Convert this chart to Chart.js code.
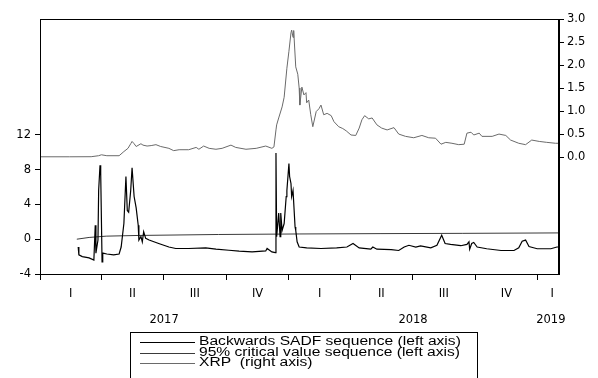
<!DOCTYPE html>
<html>
<head>
<meta charset="utf-8">
<script src="https://cdn.jsdelivr.net/npm/chart.js@4.4.1/dist/chart.umd.min.js"></script>
<style>
  html, body { margin: 0; padding: 0; background: #fff; }
  #wrap { width: 598px; height: 378px; }
</style>
</head>
<body>
<div id="wrap"><canvas id="sadf"></canvas></div>
<script>
// days counted from 1 Jan 2017
const xrpDays = [0,43,75,86,90,98,116,123,129,133,135,138,141,148,151,157,163,170,177,189,196,204,218,229,233,240,248,258,267,280,287,302,317,331,340,343,346,347,350,355,358,362,365,368,369,371,372,375,378,380,381,384,387,390,391,394,397,400,405,409,412,416,421,427,431,438,444,449,456,463,468,472,476,482,487,494,501,509,519,526,536,548,560,570,580,588,595,604,614,622,626,632,636,644,648,663,673,683,690,702,712,721,732,743,756,761];
const xrpVals = [0.0065,0.0065,0.008,0.03,0.05,0.03,0.03,0.12,0.19,0.29,0.34,0.29,0.23,0.29,0.26,0.24,0.25,0.27,0.23,0.19,0.14,0.16,0.16,0.21,0.17,0.24,0.19,0.17,0.19,0.26,0.21,0.17,0.19,0.24,0.19,0.22,0.59,0.7,0.85,1.09,1.3,1.93,2.3,2.7,2.76,2.6,2.75,1.96,1.8,1.5,1.13,1.52,1.35,1.4,1.18,1.24,0.92,0.66,0.99,1.05,1.13,0.92,0.95,0.9,0.77,0.66,0.62,0.57,0.48,0.47,0.63,0.81,0.9,0.83,0.85,0.7,0.63,0.59,0.64,0.5,0.45,0.42,0.47,0.42,0.41,0.28,0.32,0.3,0.27,0.28,0.52,0.54,0.48,0.52,0.45,0.45,0.5,0.47,0.37,0.3,0.27,0.37,0.34,0.32,0.3,0.3];

const sadfDays = [56,57,62,72,79,81,82,85,86,88,89,91,92,98,108,116,119,123,126,128,130,133,135,138,141,144,145,148,150,152,155,160,174,189,199,218,243,258,277,292,311,331,333,340,345,346,347,350,352,353,355,358,361,362,365,366,368,369,371,374,375,377,380,391,412,435,450,459,468,485,488,494,515,526,534,541,551,558,573,582,589,594,602,617,626,629,630,633,636,641,655,676,695,702,707,712,717,729,749,758,761];
const sadfVals = [-0.9,-1.8,-2.0,-2.15,-2.4,1.6,-1.6,-0.1,5.6,8.5,7.6,-2.6,-1.6,-1.7,-1.8,-1.7,-0.9,1.8,7.2,3.3,3.1,5.6,8.2,4.9,3.6,1.6,-0.1,0.3,-0.3,0.85,0.1,-0.1,-0.5,-0.9,-1.07,-1.07,-1.0,-1.15,-1.27,-1.38,-1.46,-1.35,-1.07,-1.46,-1.55,9.9,0.3,3.0,0.3,3.0,1.0,1.8,4.9,5.6,8.7,7.2,6.4,4.9,5.6,1.4,1.0,-0.3,-0.9,-1.0,-1.07,-1.0,-0.9,-0.5,-1.0,-1.15,-0.9,-1.15,-1.2,-1.3,-0.9,-0.7,-0.9,-0.77,-1.0,-0.7,0.46,-0.5,-0.6,-0.75,-0.6,-0.3,-1.15,-0.5,-0.38,-0.9,-1.1,-1.3,-1.3,-1.0,-0.23,-0.1,-0.85,-1.1,-1.1,-0.9,-0.9];

const critDays = [54,72,97,145,262,380,500,620,761];
const critVals = [0.0,0.2,0.35,0.43,0.54,0.6,0.64,0.67,0.72];

const quarterStarts = [0,90,181,273,365,455,546,638,730];
const quarterLabels = ['I','II','III','IV','I','II','III','IV','I'];
const yearLabels = ['2017','2018','2019'];
const yearCenters = [182,547,749];
const lastDay = 761;
const labelEnd = 772; // last quarter label sits a little past the data end

const leftTicks = [-4,0,4,8,12];
const rightTicks = [0,0.5,1,1.5,2,2.5,3];

const quarterMids = quarterStarts.map((d, i) => (d + (quarterStarts[i + 1] || labelEnd)) / 2);

function pts(days, vals) {
  return days.map((d, i) => ({ x: d, y: vals[i] }));
}

const font = { family: '"DejaVu Sans", sans-serif', size: 11.5 };

// frame line across the top plus the boxed legend under the axes
const frameAndLegend = {
  id: 'frameAndLegend',
  afterDraw(chart) {
    const ctx = chart.ctx;
    const a = chart.chartArea;
    ctx.save();
    ctx.strokeStyle = '#000';
    ctx.lineWidth = 1;
    ctx.strokeRect(Math.round(a.left) + 0.5, Math.round(a.top) + 0.5,
      Math.round(a.right - a.left) - 1, Math.round(a.bottom - a.top));
    ctx.strokeRect(130.5, 332.5, 347, 60);
    ctx.font = '12px "Liberation Sans", Arial, sans-serif';
    ctx.textBaseline = 'middle';
    chart.data.datasets.forEach((ds, i) => {
      const y = 342 + i * 10.5;
      ctx.strokeStyle = ds.borderColor;
      ctx.lineWidth = 1;
      ctx.beginPath();
      ctx.moveTo(140, Math.round(y) + 0.5);
      ctx.lineTo(195, Math.round(y) + 0.5);
      ctx.stroke();
      ctx.fillStyle = '#000';
      ctx.save();
      ctx.translate(199, y);
      ctx.scale(1.3, 1);
      ctx.fillText(ds.label, 0, 0);
      ctx.restore();
    });
    ctx.restore();
  }
};

new Chart(document.getElementById('sadf'), {
  type: 'line',
  data: {
    datasets: [
      {
        label: 'Backwards SADF sequence (left axis)',
        data: pts(sadfDays, sadfVals),
        yAxisID: 'y',
        borderColor: '#000000',
        borderWidth: 1.2
      },
      {
        label: '95% critical value sequence (left axis)',
        data: pts(critDays, critVals),
        yAxisID: 'y',
        borderColor: '#3a3a3a',
        borderWidth: 1
      },
      {
        label: 'XRP  (right axis)',
        data: pts(xrpDays, xrpVals),
        yAxisID: 'y1',
        borderColor: '#6a6a6a',
        borderWidth: 1
      }
    ]
  },
  options: {
    responsive: true,
    maintainAspectRatio: false,
    animation: false,
    elements: { point: { radius: 0 }, line: { tension: 0 } },
    layout: { padding: { top: 19, bottom: 48, left: 0, right: 0 } },
    plugins: { legend: { display: false }, tooltip: { enabled: false } },
    scales: {
      x: {
        type: 'linear', position: 'bottom', min: 0, max: lastDay, weight: 0,
        afterBuildTicks: s => { s.ticks = quarterStarts.map(v => ({ value: v })); },
        afterFit: s => { s.height = 7; },
        ticks: { display: false },
        grid: { drawOnChartArea: false, tickLength: 6, color: '#000', tickColor: '#000' },
        border: { color: '#000' }
      },
      xq: {
        type: 'linear', position: 'bottom', min: 0, max: lastDay, weight: 1,
        afterBuildTicks: s => { s.ticks = quarterMids.map(v => ({ value: v })); },
        afterFit: s => { s.height = 22; },
        ticks: { callback: (v, i) => quarterLabels[i], autoSkip: false, maxRotation: 0, color: '#000', font: font, padding: 6 },
        grid: { display: false, drawTicks: false },
        border: { display: false }
      },
      xy: {
        type: 'linear', position: 'bottom', min: 0, max: lastDay, weight: 2,
        afterBuildTicks: s => { s.ticks = yearCenters.map(v => ({ value: v })); },
        afterFit: s => { s.height = 27; },
        ticks: { callback: (v, i) => yearLabels[i], autoSkip: false, maxRotation: 0, color: '#000', font: font, padding: 10 },
        grid: { display: false, drawTicks: false },
        border: { display: false }
      },
      y: {
        position: 'left', min: -4, max: 25.3,
        afterBuildTicks: s => { s.ticks = leftTicks.map(v => ({ value: v })); },
        afterFit: s => { s.width = 40; },
        ticks: { color: '#000', font: font, padding: 4 },
        grid: { drawOnChartArea: false, tickLength: 5, color: '#000', tickColor: '#000' },
        border: { color: '#000' }
      },
      y1: {
        position: 'right', min: -2.54, max: 3.0,
        afterBuildTicks: s => { s.ticks = rightTicks.map(v => ({ value: v })); },
        afterFit: s => { s.width = 39; },
        ticks: { color: '#000', font: font, padding: 3, callback: v => v.toFixed(1) },
        grid: { drawOnChartArea: false, tickLength: 5, color: '#000', tickColor: '#000' },
        border: { color: '#000' }
      }
    }
  },
  plugins: [frameAndLegend]
});
</script>
</body>
</html>
